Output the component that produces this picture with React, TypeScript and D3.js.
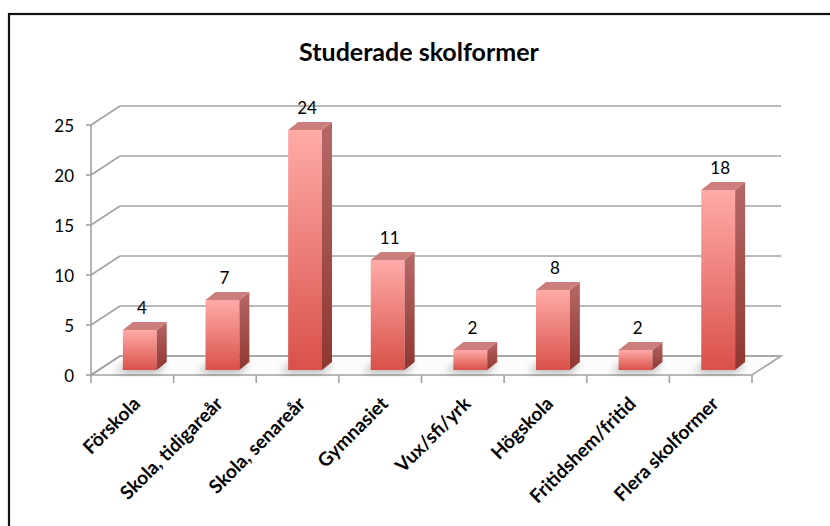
import React from 'react'
import * as d3 from 'd3'

const WIDTH = 830
const HEIGHT = 526

const title = 'Studerade skolformer'
const categories = [
  'Förskola',
  'Skola, tidigareår',
  'Skola, senareår',
  'Gymnasiet',
  'Vux/sfi/yrk',
  'Högskola',
  'Fritidshem/fritid',
  'Flera skolformer',
]
const values = [4, 7, 24, 11, 2, 8, 2, 18]
const yTicks = [0, 5, 10, 15, 20, 25]

// front plane of the 3d box
const X_LEFT = 91
const X_RIGHT = 752
const Y_FLOOR = 375
const Y_TOP = 125
// offset from front plane to back wall
const DX = 29
const DY = -19
// bar placement inside the depth
const BAR_OFF_X = 7.5
const BAR_OFF_Y = -5
const BAR_DX = 10
const BAR_DY = -8

const FONT = 'Lato, "Open Sans", sans-serif'
const GRID = '#a3a3a3'

export default function App() {
  const x = d3.scaleBand<string>()
    .domain(categories)
    .range([X_LEFT, X_RIGHT])
    .paddingInner(0)

  const y = d3.scaleLinear()
    .domain([0, 25])
    .range([Y_FLOOR, Y_TOP])

  const barW = x.bandwidth() * 0.41
  const pts = (arr: number[][]) => arr.map(p => p.join(',')).join(' ')

  const tickEdges = categories.map(c => x(c)!).concat([X_RIGHT])

  return (
    <svg width={WIDTH} height={HEIGHT}
      style={{ position: 'absolute', left: 0, top: 0, background: '#fff' }}>
      <defs>
        <linearGradient id="front" x1="0" y1="0" x2="0" y2="1">
          <stop offset="0%" stopColor="#ffaba8" />
          <stop offset="100%" stopColor="#d9514a" />
        </linearGradient>
        <linearGradient id="side" x1="0" y1="0" x2="0" y2="1">
          <stop offset="0%" stopColor="#b76866" />
          <stop offset="100%" stopColor="#8f3632" />
        </linearGradient>
        <filter id="blur" x="-50%" y="-50%" width="200%" height="200%">
          <feGaussianBlur stdDeviation="4" />
        </filter>
      </defs>

      {/* frame */}
      <rect x={9} y={14} width={WIDTH} height={HEIGHT} fill="#fff"
        stroke="#111" strokeWidth={2.2} />

      <text x={419} y={61} textAnchor="middle" fontFamily={FONT}
        fontWeight="bold" fontSize={25} fill="#000">{title}</text>

      {/* floor */}
      <polygon
        points={pts([[X_LEFT, Y_FLOOR], [X_RIGHT, Y_FLOOR],
          [X_RIGHT + DX, Y_FLOOR + DY], [X_LEFT + DX, Y_FLOOR + DY]])}
        fill="#fcfcfc" stroke={GRID} strokeWidth={1.6} />

      {/* walls */}
      {yTicks.map(t => (
        <g key={t}>
          <line x1={X_LEFT} y1={y(t)} x2={X_LEFT + DX} y2={y(t) + DY}
            stroke={GRID} strokeWidth={1.6} />
          <line x1={X_LEFT + DX} y1={y(t) + DY} x2={X_RIGHT + DX} y2={y(t) + DY}
            stroke={GRID} strokeWidth={1.6} />
          <line x1={X_LEFT - 5} y1={y(t)} x2={X_LEFT} y2={y(t)}
            stroke={GRID} strokeWidth={1.6} />
          <text x={74} y={y(t) + 3} textAnchor="end" dominantBaseline="middle"
            fontFamily={FONT} fontSize={17} fill="#000">{t}</text>
        </g>
      ))}
      <line x1={X_LEFT} y1={Y_FLOOR} x2={X_LEFT} y2={Y_TOP}
        stroke={GRID} strokeWidth={1.6} />

      {/* x axis ticks */}
      {tickEdges.map((t, i) => (
        <line key={i} x1={t} y1={Y_FLOOR} x2={t} y2={Y_FLOOR + 8}
          stroke={GRID} strokeWidth={1.6} />
      ))}

      {/* bars */}
      {categories.map((c, i) => {
        const v = values[i]
        const cx = x(c)! + x.bandwidth() / 2 + BAR_OFF_X
        const l = cx - barW / 2
        const r = cx + barW / 2
        const b = Y_FLOOR + BAR_OFF_Y
        const t = y(v) + BAR_OFF_Y
        return (
          <g key={c}>
            <polygon filter="url(#blur)" fill="#000" opacity={0.35}
              points={pts([[l - 8, b + 2], [r, b + 2], [r + BAR_DX, b + BAR_DY + 1],
                [l + BAR_DX - 4, b + BAR_DY + 1]])} />
            <rect x={l} y={t} width={barW} height={b - t} fill="url(#front)" />
            <polygon fill="url(#side)"
              points={pts([[r, t], [r + BAR_DX, t + BAR_DY], [r + BAR_DX, b + BAR_DY], [r, b]])} />
            <polygon fill="#cc7e7c"
              points={pts([[l, t], [r, t], [r + BAR_DX, t + BAR_DY], [l + BAR_DX, t + BAR_DY]])} />
            <text x={cx + 2} y={t + BAR_DY - 8} textAnchor="middle"
              fontFamily={FONT} fontSize={17} fill="#000">{v}</text>
          </g>
        )
      })}

      {/* category labels */}
      {categories.map(c => {
        const ax = x(c)! + x.bandwidth() / 2 + 9
        const ay = Y_FLOOR + 30
        return (
          <text key={c} x={ax} y={ay} textAnchor="end"
            transform={`rotate(-45, ${ax}, ${ay})`}
            fontFamily={FONT} fontWeight="bold" fontSize={19} fill="#000">{c}</text>
        )
      })}
    </svg>
  )
}
